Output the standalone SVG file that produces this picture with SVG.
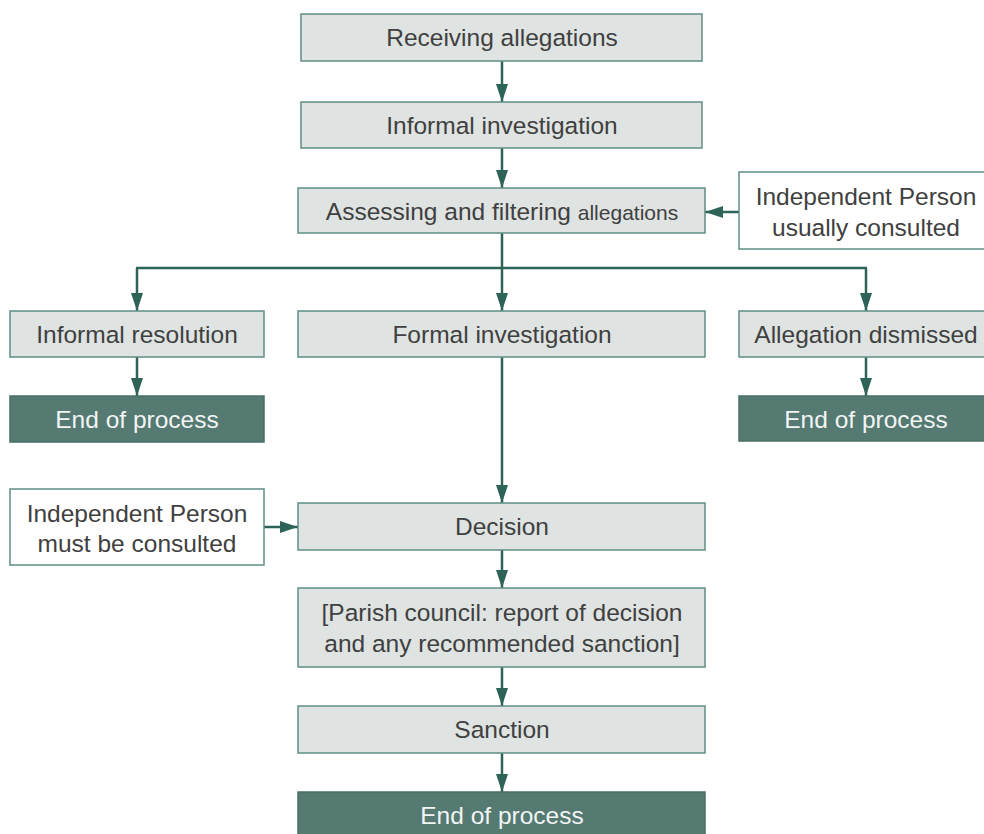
<svg xmlns="http://www.w3.org/2000/svg" width="984" height="834" viewBox="0 0 984 834">
<defs>
<marker id="ah" viewBox="0 0 18 12" refX="18" refY="6" markerWidth="18" markerHeight="12" markerUnits="userSpaceOnUse" orient="auto">
<path d="M0,0 L18,6 L0,12 Z" fill="#2e6358"/>
</marker>
<style>
.lt{fill:#dfe3e1;stroke:#5f8f85;stroke-width:1.5}
.wh{fill:#ffffff;stroke:#5f8f85;stroke-width:1.5}
.dk{fill:#547a72;stroke:#4a6f67;stroke-width:1.5}
.t{font-family:"Liberation Sans",Arial,sans-serif;font-size:24.5px;fill:#404040;text-anchor:middle}
.tw{font-family:"Liberation Sans",Arial,sans-serif;font-size:24.5px;fill:#f2f5f4;text-anchor:middle}
.c{fill:none;stroke:#2e6358;stroke-width:2.5}
</style>
</defs>
<rect width="984" height="834" fill="#ffffff"/>
<g id="connectors">
<path class="c" d="M502,61 V102" marker-end="url(#ah)"/>
<path class="c" d="M502,148 V188" marker-end="url(#ah)"/>
<path class="c" d="M739,212 H705" marker-end="url(#ah)"/>
<path class="c" d="M502,233 V268"/>
<path class="c" d="M136,268 H867"/>
<path class="c" d="M137,268 V311" marker-end="url(#ah)"/>
<path class="c" d="M502,268 V311" marker-end="url(#ah)"/>
<path class="c" d="M866,268 V311" marker-end="url(#ah)"/>
<path class="c" d="M137,357 V396" marker-end="url(#ah)"/>
<path class="c" d="M866,357 V396" marker-end="url(#ah)"/>
<path class="c" d="M502,357 V503" marker-end="url(#ah)"/>
<path class="c" d="M264,527 H298" marker-end="url(#ah)"/>
<path class="c" d="M502,550 V588" marker-end="url(#ah)"/>
<path class="c" d="M502,667 V706" marker-end="url(#ah)"/>
<path class="c" d="M502,753 V792" marker-end="url(#ah)"/>
</g>
<g id="receiving">
<rect class="lt" x="301" y="14" width="401" height="47"/>
<text class="t" x="502" y="46">Receiving allegations</text>
</g>
<g id="informal-investigation">
<rect class="lt" x="301" y="102" width="401" height="46"/>
<text class="t" x="502" y="134">Informal investigation</text>
</g>
<g id="assessing">
<rect class="lt" x="298" y="188" width="407" height="45"/>
<text class="t" x="502" y="220">Assessing and filtering <tspan font-size="21px">allegations</tspan></text>
</g>
<g id="ip-usually">
<rect class="wh" x="739" y="172" width="250" height="77"/>
<text class="t" x="866" y="205">Independent Person</text>
<text class="t" x="866" y="236">usually consulted</text>
</g>
<g id="informal-resolution">
<rect class="lt" x="10" y="311" width="254" height="46"/>
<text class="t" x="137" y="343">Informal resolution</text>
</g>
<g id="formal-investigation">
<rect class="lt" x="298" y="311" width="407" height="46"/>
<text class="t" x="502" y="343">Formal investigation</text>
</g>
<g id="allegation-dismissed">
<rect class="lt" x="739" y="311" width="250" height="46"/>
<text class="t" x="866" y="343">Allegation dismissed</text>
</g>
<g id="end-left">
<rect class="dk" x="10" y="396" width="254" height="46"/>
<text class="tw" x="137" y="428">End of process</text>
</g>
<g id="end-right">
<rect class="dk" x="739" y="396" width="250" height="45"/>
<text class="tw" x="866" y="428">End of process</text>
</g>
<g id="ip-must">
<rect class="wh" x="10" y="489" width="254" height="76"/>
<text class="t" x="137" y="522">Independent Person</text>
<text class="t" x="137" y="552">must be consulted</text>
</g>
<g id="decision">
<rect class="lt" x="298" y="503" width="407" height="47"/>
<text class="t" x="502" y="535">Decision</text>
</g>
<g id="parish">
<rect class="lt" x="298" y="588" width="407" height="79"/>
<text class="t" x="502" y="621">[Parish council: report of decision</text>
<text class="t" x="502" y="652">and any recommended sanction]</text>
</g>
<g id="sanction">
<rect class="lt" x="298" y="706" width="407" height="47"/>
<text class="t" x="502" y="738">Sanction</text>
</g>
<g id="end-bottom">
<rect class="dk" x="298" y="792" width="407" height="50"/>
<text class="tw" x="502" y="824">End of process</text>
</g>
</svg>
